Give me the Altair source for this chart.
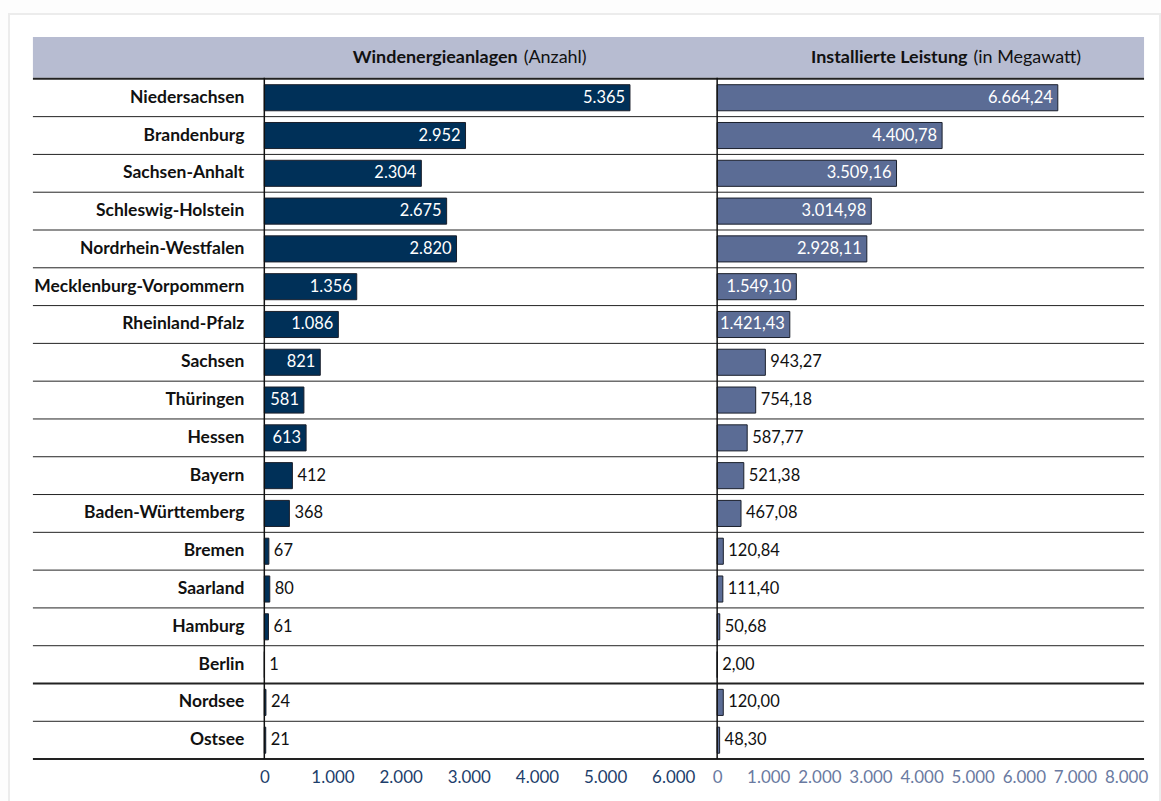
import altair as alt
import pandas as pd

states = ["Niedersachsen", "Brandenburg", "Sachsen-Anhalt", "Schleswig-Holstein",
          "Nordrhein-Westfalen", "Mecklenburg-Vorpommern", "Rheinland-Pfalz", "Sachsen",
          "Thüringen", "Hessen", "Bayern", "Baden-Württemberg", "Bremen", "Saarland",
          "Hamburg", "Berlin", "Nordsee", "Ostsee"]
anzahl = [5365, 2952, 2304, 2675, 2820, 1356, 1086, 821, 581, 613, 412, 368, 67, 80, 61, 1, 24, 21]
leistung = [6664.24, 4400.78, 3509.16, 3014.98, 2928.11, 1549.10, 1421.43, 943.27, 754.18,
            587.77, 521.38, 467.08, 120.84, 111.40, 50.68, 2.00, 120.00, 48.30]
ticks_left = [0, 1000, 2000, 3000, 4000, 5000, 6000]
ticks_right = [0, 1000, 2000, 3000, 4000, 5000, 6000, 7000, 8000]
header_left = ("Windenergieanlagen", "(Anzahl)")
header_right = ("Installierte Leistung", "(in Megawatt)")


def de_int(v):
    return f"{v:,}".replace(",", ".")


def de_float(v):
    return f"{v:,.2f}".replace(",", "X").replace(".", ",").replace("X", ".")


n = len(states)
df = pd.DataFrame({"state": states, "anzahl": anzahl, "leistung": leistung})
df["a_lbl"] = [de_int(v) for v in anzahl]
df["l_lbl"] = [de_float(v) for v in leistung]
lines_df = pd.DataFrame({"pos": list(range(n + 1))})
one = pd.DataFrame({"k": [0]})

FONT = "Lato"
FS_NAME = 17.5
FS_HEAD = 18
FS_VAL = 16.5
FS_AXIS = 17
W = 410
H = 682
LEFT_COL = "#003058"
RIGHT_COL = "#5b6c95"
HEADER_COL = "#b7bcd1"
SPACING = 44

ysc = alt.Y("state:N", sort=states, axis=None,
            scale=alt.Scale(domain=states, paddingInner=0.31, paddingOuter=0.155))
tick_expr = "replace(format(datum.value, ','), ',', '.')"


def panel(field, lbl, domain, ticks, color, label_color, threshold, header, first):
    xenc = alt.X(f"{field}:Q", scale=alt.Scale(domain=domain, nice=False, zero=True),
                 axis=alt.Axis(values=ticks, labelExpr=tick_expr, ticks=False, domain=False,
                               grid=False, title=None, labelColor=label_color,
                               labelFontSize=FS_AXIS, labelFont=FONT, labelPadding=10,
                               labelFlush=False, labelOverlap=False, zindex=2))
    layers = []
    base = alt.Chart(df)
    if first:
        card = alt.Chart(one).mark_rect(fill="white", stroke="#ececec", strokeWidth=2).encode(
            x=alt.value(-256), x2=alt.value(898), y=alt.value(-65), y2=alt.value(726))
        head = alt.Chart(one).mark_rect(fill=HEADER_COL).encode(
            x=alt.value(-232), x2=alt.value(882), y=alt.value(-42), y2=alt.value(-1))
        rules = alt.Chart(lines_df).mark_rule(color="#222").encode(
            y=alt.Y("pos:Q", scale=alt.Scale(domain=[0, n], reverse=True, nice=False), axis=None),
            x=alt.value(-232), x2=alt.value(882),
            strokeWidth=alt.condition("datum.pos == 0 || datum.pos == 16 || datum.pos == 18",
                                      alt.value(2), alt.value(1)),
        )
        names = base.mark_text(align="right", baseline="middle", font=FONT, fontSize=FS_NAME,
                               fontWeight="bold", color="#111").encode(
            y=ysc, x=alt.value(-20), text="state:N")
        layers += [card, head, rules, names]
    hb = alt.Chart(one).mark_text(align="right", baseline="middle", font=FONT, fontSize=FS_HEAD,
                                  fontWeight="bold", color="#111").encode(
        x=alt.value(header[2]), y=alt.value(-21), text=alt.value(header[0]))
    hr = alt.Chart(one).mark_text(align="left", baseline="middle", font=FONT, fontSize=FS_HEAD,
                                  color="#111", dx=6).encode(
        x=alt.value(header[2]), y=alt.value(-21), text=alt.value(header[1]))
    bars = base.mark_bar(color=color, stroke="#1a1f2b", strokeWidth=1).encode(x=xenc, y=ysc)
    inside = base.transform_filter(f"datum.{field} >= {threshold}").mark_text(
        align="right", baseline="middle", dx=-5, font=FONT, fontSize=FS_VAL, color="white").encode(
        x=xenc, y=ysc, text=f"{lbl}:N")
    outside = base.transform_filter(f"datum.{field} < {threshold}").mark_text(
        align="left", baseline="middle", dx=5, font=FONT, fontSize=FS_VAL, color="#111").encode(
        x=xenc, y=ysc, text=f"{lbl}:N")
    zero = alt.Chart(one).mark_rule(color="#111", strokeWidth=1.5).encode(
        x=alt.X(datum=0), y=alt.value(-1), y2=alt.value(H))
    layers += [hb, hr, bars, zero, inside, outside]
    return alt.layer(*layers).resolve_scale(y="independent").properties(width=W, height=H)


left = panel("anzahl", "a_lbl", [0, 6000], ticks_left, LEFT_COL, "#1d3e6b", 500,
             (header_left[0], header_left[1], 254), True)
right = panel("leistung", "l_lbl", [0, 8000], ticks_right, RIGHT_COL, "#6a7aa1", 1000,
              (header_right[0], header_right[1], 251), False)

chart = alt.hconcat(left, right, spacing=SPACING, bounds="flush").properties(
    padding={"left": 8, "top": 12, "right": 0, "bottom": 0},
    background="#fdfdfd",
).configure_view(stroke=None)

chart.save("out.html", embed_options={"renderer": "svg", "actions": False})
